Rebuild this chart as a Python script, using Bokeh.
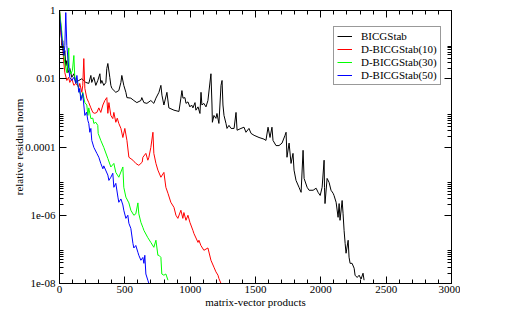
from bokeh.plotting import figure
from bokeh.models import (LinearAxis, LogAxis, FixedTicker, CustomJSTickFormatter,
                          Legend, LegendItem, Range1d)
from bokeh.embed import file_html
from bokeh.resources import INLINE

# ---- data ----
series_names = ["BICGStab", "D-BICGStab(10)", "D-BICGStab(30)", "D-BICGStab(50)"]
series_colors = ["#000000", "#ff0000", "#00ff00", "#0000ff"]

# (matrix-vector products, relative residual norm)
bicg = [(0,1.0),(10,0.36),(18,0.094),(25,0.13),(33,0.048),(41,0.067),(48,0.024),(56,0.034),
        (64,0.015),(79,0.020),(94,0.011),(110,0.014),(125,0.0078),(148,0.0089),(171,0.010),
        (201,0.0078),(224,0.0073),(240,0.0125),(247,0.0078),(263,0.011),(278,0.0064),(293,0.0089),
        (309,0.014),(316,0.0073),(324,0.0089),(339,0.0064),(355,0.0078),(362,0.020),(370,0.028),
        (385,0.011),(393,0.0064),(401,0.0052),(431,0.0040),(454,0.0045),(470,0.0078),(477,0.0125),
        (492,0.0064),(508,0.0040),(516,0.0028),(546,0.0027),(569,0.0023),(592,0.0020),(623,0.0023),
        (630,0.0028),(646,0.0020),(669,0.0019),(699,0.0023),(722,0.0019),(738,0.0027),(761,0.0040),
        (776,0.0064),(784,0.0033),(799,0.0017),(822,0.0040),(837,0.0014),(876,0.0012),(914,0.0011),
        (929,0.0027),(937,0.0045),(945,0.0027),(960,0.0028),(968,0.0019),(983,0.0021),(998,0.0015),
        (1011,0.0017),(1021,0.0014),(1037,0.0020),(1044,0.0012),(1060,0.0015),(1075,9.6e-4),
        (1083,0.0040),(1090,0.0017),(1105,0.0019),(1121,0.0015),(1136,0.0023),(1159,0.014),
        (1167,0.0017),(1170,5.3e-4),(1182,8.4e-4),(1197,6.9e-4),(1205,9.6e-4),(1220,4.9e-4),
        (1236,0.0064),(1244,0.0089),(1251,0.0017),(1259,8.4e-4),(1274,4.9e-4),(1282,3.5e-4),
        (1297,4.3e-4),(1313,3.5e-4),(1336,3.5e-4),(1351,0.00103),(1359,3.1e-4),(1389,3.5e-4),
        (1412,3.8e-4),(1427,2.7e-4),(1450,3.5e-4),(1466,2.5e-4),(1489,2.2e-4),(1527,1.9e-4),
        (1565,1.7e-4),(1580,1.56e-4),(1596,3.8e-4),(1611,1.9e-4),(1626,3.8e-4),(1634,1.56e-4),
        (1657,1.1e-4),(1680,1.1e-4),(1703,1.3e-4),(1726,2.2e-4),(1734,2.7e-4),(1741,5.0e-5),
        (1757,1.3e-4),(1772,3.3e-5),(1787,6.5e-5),(1795,2.1e-5),(1810,1.05e-5),(1833,6.6e-6),
        (1849,4.7e-6),(1864,8.0e-5),(1872,1.2e-5),(1895,6.6e-6),(1910,5.4e-6),(1941,5.4e-6),
        (1964,6.2e-6),(1979,4.7e-6),(1995,3.8e-6),(2010,6.6e-6),(2025,4.1e-5),(2028,6.6e-6),
        (2032,2.2e-6),(2048,1.2e-5),(2063,9.2e-6),(2078,5.4e-6),(2094,4.4e-6),(2101,3.8e-6),
        (2117,2.4e-6),(2132,8.7e-7),(2140,2.2e-6),(2147,7.1e-7),(2163,2.7e-6),(2170,1.15e-6),
        (2178,3.6e-7),(2186,1.5e-7),(2193,7.7e-8),(2209,1.85e-7),(2216,5.9e-8),(2224,3.9e-8),
        (2239,3.9e-8),(2255,2.8e-8),(2262,1.75e-8),(2278,1.5e-8),(2293,1.75e-8),(2308,1.35e-8),
        (2323,2.0e-8),(2331,1.25e-8)]

d10 = [(0,1.0),(10,0.227),(25,0.077),(33,0.030),(41,0.015),(56,0.0089),(69,0.011),(79,0.0078),
       (94,0.010),(110,0.0064),(125,0.0073),(148,0.0056),(155,0.0073),(171,0.0040),(178,0.0064),
       (186,0.039),(194,0.0052),(209,0.0027),(224,0.0020),(240,0.0014),(255,0.00103),(270,9.7e-4),
       (286,0.00103),(301,0.0014),(316,0.00103),(332,0.0017),(347,0.0023),(362,0.0028),(370,9.7e-4),
       (378,0.0020),(393,8.4e-4),(408,6.8e-4),(416,0.00103),(431,5.3e-4),(442,7.0e-4),(454,4.9e-4),
       (470,3.5e-4),(485,1.9e-4),(500,3.5e-4),(516,1.56e-4),(531,5.0e-5),(562,4.1e-5),(584,3.3e-5),
       (607,2.9e-5),(633,3.6e-5),(638,5.0e-5),(661,6.5e-5),(676,4.1e-5),(684,5.0e-5),(699,9.7e-5),
       (715,2.7e-4),(722,6.5e-5),(738,3.3e-5),(753,2.1e-5),(776,1.3e-5),(799,1.8e-5),(814,6.6e-6),
       (830,4.4e-6),(852,2.4e-6),(876,1.7e-6),(891,1.0e-6),(906,8.1e-7),(929,1.4e-6),(944,8.1e-7),
       (952,1.2e-6),(968,7.1e-7),(983,1.0e-6),(998,6.2e-7),(1021,3.6e-7),(1029,2.9e-7),(1060,1.6e-7),
       (1067,1.85e-7),(1082,1.3e-7),(1105,9.4e-8),(1136,1.1e-7),(1159,4.8e-8),(1182,3.0e-8),
       (1197,2.2e-8),(1213,1.75e-8),(1220,1.4e-8),(1236,1.0e-8)]

d30 = [(0,1.0),(18,0.227),(25,0.094),(41,0.028),(56,0.015),(64,0.034),(71,0.08),(74,0.020),
       (87,0.014),(99,0.0175),(110,0.048),(117,0.011),(133,0.0078),(148,0.0052),(155,0.0040),
       (171,0.0027),(178,0.0040),(194,0.0020),(209,0.0017),(217,8.4e-4),(224,0.0014),(240,6.8e-4),
       (255,7.0e-4),(263,4.9e-4),(278,5.3e-4),(293,4.3e-4),(296,2.5e-4),(316,1.56e-4),(339,9.7e-5),
       (370,4.6e-5),(393,2.6e-5),(416,3.3e-5),(431,1.8e-5),(454,1.3e-5),(485,2.6e-5),(492,6.6e-6),
       (508,3.4e-6),(531,2.3e-6),(546,1.4e-6),(569,1.0e-6),(584,1.1e-6),(600,2.3e-6),(607,1.1e-6),
       (623,6.2e-7),(638,4.4e-7),(646,3.6e-7),(676,2.2e-7),(699,1.6e-7),(722,1.15e-7),(738,1.85e-7),
       (753,6.7e-8),(761,6.7e-8),(776,5.8e-8),(783,1.9e-8),(799,1.75e-8),(814,1.9e-8),(830,1.25e-8)]

d50 = [(0,0.7),(18,0.15),(33,0.048),(41,0.094),(48,0.87),(56,0.094),(71,0.020),(79,0.011),
       (94,0.0089),(110,0.011),(125,0.0073),(133,0.0125),(148,0.0040),(155,0.0052),(163,0.0023),
       (178,0.0037),(186,0.0017),(194,8.4e-4),(207,0.00105),(217,6.0e-4),(224,4.9e-4),(232,2.7e-4),
       (240,3.5e-4),(247,1.56e-4),(263,9.7e-5),(286,6.5e-5),(301,5.0e-5),(316,3.3e-5),(332,2.3e-5),
       (339,2.8e-5),(370,1.5e-5),(378,1.05e-5),(393,1.3e-5),(408,1.7e-5),(416,6.6e-6),(431,8.6e-6),
       (447,3.4e-6),(454,2.4e-6),(470,3.0e-6),(485,2.0e-6),(492,1.4e-6),(508,8.1e-7),(523,1.0e-6),
       (531,5.8e-7),(546,4.1e-7),(562,1.5e-7),(569,1.1e-7),(584,1.3e-7),(600,8.2e-8),(607,6.7e-8),
       (623,4.8e-8),(638,5.8e-8),(646,3.9e-8),(653,6.7e-8),(661,1.9e-8),(676,1.25e-8),(684,1.0e-8)]

x_ticks = [0, 500, 1000, 1500, 2000, 2500, 3000]
x_minor_step = 100
y_ticks = [1, 1e-2, 1e-4, 1e-6, 1e-8]
y_tick_labels = ["1", "0.01", "0.0001", "1e-06", "1e-08"]
x_title = "matrix-vector products"
y_title = "relative residual norm"

FONT = "Liberation Serif"

p = figure(width=460, height=312, x_range=Range1d(0, 3000), y_range=Range1d(1e-8, 1),
           y_axis_type="log", output_backend="svg", toolbar_location=None,
           min_border_left=59, min_border_right=9, min_border_top=10, min_border_bottom=29)
p.grid.visible = False
p.outline_line_color = "#000000"
p.outline_line_width = 1
p.background_fill_color = "white"
p.border_fill_color = "white"

x_minor = list(range(x_ticks[0], x_ticks[-1] + 1, x_minor_step))
y_minor = [m * t for t in y_ticks[1:] for m in range(2, 10)]
xt = FixedTicker(ticks=x_ticks, minor_ticks=x_minor)
yt = FixedTicker(ticks=y_ticks, minor_ticks=y_minor)

yfmt = CustomJSTickFormatter(args=dict(vals=y_ticks, labs=y_tick_labels), code="""
let best = 0, bd = Infinity;
for (let i = 0; i < vals.length; i++) {
  const d = Math.abs(Math.log10(tick) - Math.log10(vals[i]));
  if (d < bd) { bd = d; best = i; }
}
return labs[best];
""")
blank = CustomJSTickFormatter(code="return '';")

def style(ax, labels=True):
    ax.major_tick_in = 7
    ax.major_tick_out = 0
    ax.minor_tick_in = 4
    ax.minor_tick_out = 0
    ax.axis_line_color = "#000000"
    ax.major_tick_line_color = "#000000"
    ax.minor_tick_line_color = "#000000"
    ax.major_label_text_font = FONT
    ax.major_label_text_font_size = "11px" if labels else "0px"
    ax.major_label_text_color = "#000000"
    ax.axis_label_text_font = FONT
    ax.axis_label_text_font_size = "11px"
    ax.axis_label_text_font_style = "normal"
    ax.axis_label_text_color = "#000000"

xa = p.xaxis[0]
xa.ticker = xt
style(xa)
xa.axis_label = x_title
xa.major_label_standoff = 2
xa.axis_label_standoff = 0

ya = p.yaxis[0]
ya.ticker = yt
ya.formatter = yfmt
style(ya)
ya.axis_label = y_title
ya.major_label_standoff = 4
ya.axis_label_standoff = -3

top = LinearAxis(ticker=xt, formatter=blank)
style(top, labels=False)
top.major_label_standoff = 0
p.add_layout(top, "above")

right = LogAxis(ticker=yt, formatter=blank)
style(right, labels=False)
right.major_label_standoff = 0
p.add_layout(right, "right")

items = []
for name, col, pts in zip(series_names, series_colors, [bicg, d10, d30, d50]):
    xs = [a for a, b in pts]
    ys = [b for a, b in pts]
    r = p.line(xs, ys, line_color=col, line_width=1)
    items.append(LegendItem(label=name, renderers=[r]))

legend = Legend(items=items, location=(274, 198), margin=0, padding=3, spacing=1,
                glyph_width=15, glyph_height=12, label_height=12, label_standoff=9,
                label_text_font=FONT, label_text_font_size="11px", label_text_color="#000000",
                border_line_color="#333333", border_line_width=1,
                background_fill_color="white", background_fill_alpha=1.0)
p.add_layout(legend)

open("out.html", "w").write(file_html(p, INLINE))
